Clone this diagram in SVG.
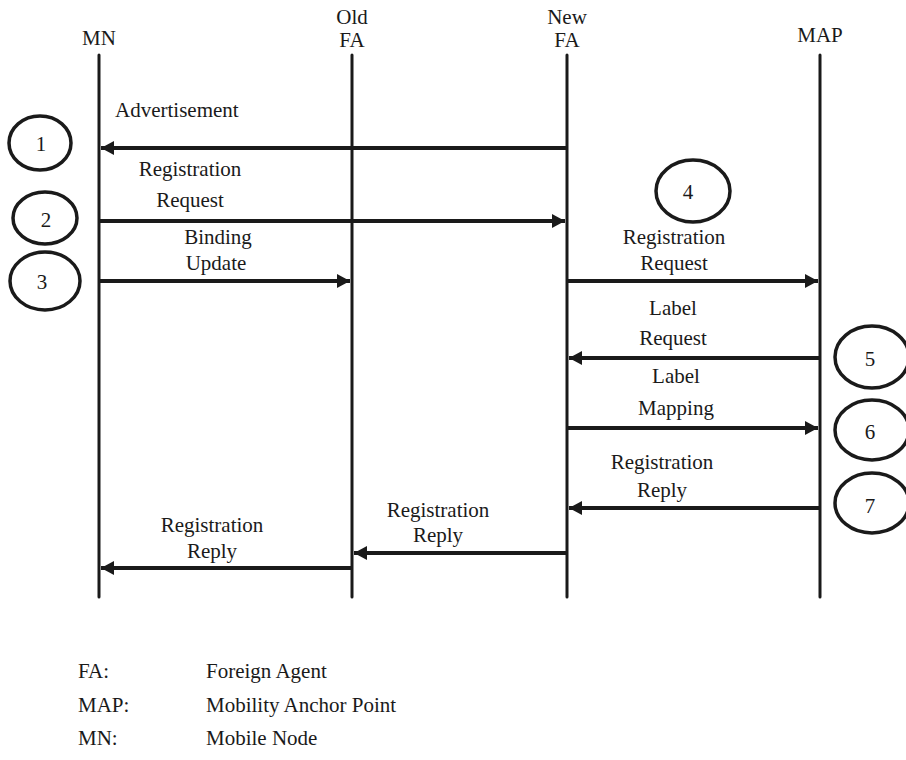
<svg xmlns="http://www.w3.org/2000/svg" width="906" height="760" viewBox="0 0 906 760" font-family="'Liberation Serif', 'DejaVu Serif', serif">
<style>
text{font-family:'Liberation Serif','DejaVu Serif',serif;font-size:21px;fill:#1a1a1a}
.m{text-anchor:middle}
.life{stroke:#1a1a1a;stroke-width:3;stroke-linecap:round}
.msg{stroke:#1a1a1a;stroke-width:4;fill:none}
.step{fill:none;stroke:#1a1a1a;stroke-width:3.5}
</style>
<defs>
<marker id="ah" markerUnits="userSpaceOnUse" markerWidth="14" markerHeight="16" refX="13" refY="8" orient="auto">
<path d="M0,1 L13,8 L0,15 Z" fill="#1a1a1a"/>
</marker>
</defs>
<g id="MN"><text class="m" x="99" y="45">MN</text><line class="life" x1="99" y1="55" x2="99" y2="597"/></g>
<g id="OldFA"><text class="m" x="352" y="24">Old</text><text class="m" x="352" y="47">FA</text><line class="life" x1="352" y1="55" x2="352" y2="597"/></g>
<g id="NewFA"><text class="m" x="567" y="24">New</text><text class="m" x="567" y="47">FA</text><line class="life" x1="567" y1="55" x2="567" y2="597"/></g>
<g id="MAP"><text class="m" x="820" y="42">MAP</text><line class="life" x1="820" y1="55" x2="820" y2="597"/></g>
<g id="connectors">
<line class="msg" x1="567" y1="148" x2="101" y2="148" marker-end="url(#ah)"/>
<line class="msg" x1="99" y1="221" x2="565" y2="221" marker-end="url(#ah)"/>
<line class="msg" x1="99" y1="281" x2="350" y2="281" marker-end="url(#ah)"/>
<line class="msg" x1="567" y1="281" x2="818" y2="281" marker-end="url(#ah)"/>
<line class="msg" x1="820" y1="358" x2="569" y2="358" marker-end="url(#ah)"/>
<line class="msg" x1="567" y1="428" x2="818" y2="428" marker-end="url(#ah)"/>
<line class="msg" x1="820" y1="508" x2="569" y2="508" marker-end="url(#ah)"/>
<line class="msg" x1="567" y1="553" x2="354" y2="553" marker-end="url(#ah)"/>
<line class="msg" x1="352" y1="568" x2="101" y2="568" marker-end="url(#ah)"/>
</g>
<g id="labels">
<text x="115" y="117">Advertisement</text>
<text class="m" x="190" y="176">Registration</text>
<text class="m" x="190" y="207">Request</text>
<text class="m" x="218" y="244">Binding</text>
<text class="m" x="216" y="270">Update</text>
<text class="m" x="674" y="244">Registration</text>
<text class="m" x="674" y="270">Request</text>
<text class="m" x="673" y="315">Label</text>
<text class="m" x="673" y="345">Request</text>
<text class="m" x="676" y="383">Label</text>
<text class="m" x="676" y="415">Mapping</text>
<text class="m" x="662" y="469">Registration</text>
<text class="m" x="662" y="497">Reply</text>
<text class="m" x="438" y="517">Registration</text>
<text class="m" x="438" y="542">Reply</text>
<text class="m" x="212" y="532">Registration</text>
<text class="m" x="212" y="558">Reply</text>
</g>
<g id="step1"><ellipse class="step" cx="40" cy="143" rx="31" ry="27"/><text class="m" x="41" y="151">1</text></g>
<g id="step2"><ellipse class="step" cx="45" cy="218" rx="32" ry="26"/><text class="m" x="46" y="227">2</text></g>
<g id="step3"><ellipse class="step" cx="45" cy="281" rx="35" ry="29"/><text class="m" x="42" y="289">3</text></g>
<g id="step4"><ellipse class="step" cx="693" cy="191" rx="37" ry="31"/><text class="m" x="688" y="199">4</text></g>
<g id="step5"><ellipse class="step" cx="872" cy="357" rx="37" ry="31"/><text class="m" x="870" y="366">5</text></g>
<g id="step6"><ellipse class="step" cx="872" cy="430" rx="37" ry="30"/><text class="m" x="870" y="439">6</text></g>
<g id="step7"><ellipse class="step" cx="872" cy="503" rx="37" ry="30"/><text class="m" x="870" y="513">7</text></g>
<g id="legend">
<text x="78" y="678">FA:</text><text x="206" y="678">Foreign Agent</text>
<text x="78" y="712">MAP:</text><text x="206" y="712">Mobility Anchor Point</text>
<text x="78" y="745">MN:</text><text x="206" y="745">Mobile Node</text>
</g>
</svg>
